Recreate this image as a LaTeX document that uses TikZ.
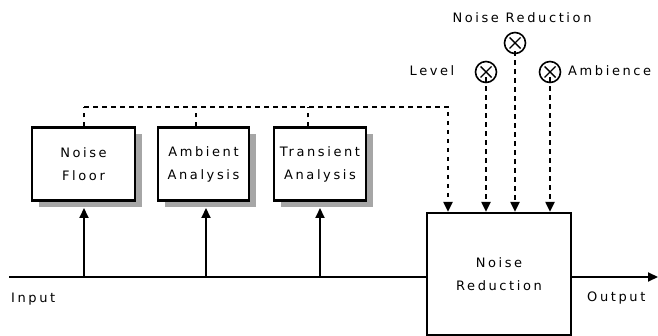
\documentclass[tikz,border=0pt]{standalone}
\usepackage{fontspec}
\newfontfamily\pix[LetterSpace=20]{DejaVu Sans}
\usetikzlibrary{arrows.meta,shadows}
\begin{document}
\begin{tikzpicture}[x=1pt,y=-1pt,
  every node/.style={font=\pix\fontsize{13}{23}\selectfont, inner sep=0pt},
  blk/.style={draw, line width=2.2pt, fill=white, align=center,
    drop shadow={shadow xshift=7pt, shadow yshift=-7pt, fill=gray!70, opacity=1}},
  bigblk/.style={draw, line width=2.2pt, fill=white, align=center},
  sig/.style={line width=2pt},
  ctl/.style={line width=2pt, dash pattern=on 4.5pt off 4.5pt},
  tip/.style={-{Triangle[length=10pt,width=9pt]}},
  knob/.style={circle, draw, line width=1.6pt, minimum size=21pt, path picture={
     \draw[line width=1.4pt] ([shift={(-5.5pt,-5.5pt)}]path picture bounding box.center) -- ([shift={(5.5pt,5.5pt)}]path picture bounding box.center)
       ([shift={(-5.5pt,5.5pt)}]path picture bounding box.center) -- ([shift={(5.5pt,-5.5pt)}]path picture bounding box.center);}}
]
\useasboundingbox (0,0) rectangle (658,336);
% blocks
\node[blk, minimum width=103pt, minimum height=73pt] (nf) at (83.5,164) {Noise\\Floor};
\node[blk, minimum width=91pt, minimum height=73pt] (aa) at (203.5,164) {Ambient\\Analysis};
\node[blk, minimum width=92pt, minimum height=73pt] (ta) at (320,164) {Transient\\Analysis};
\node[bigblk, minimum width=144pt, minimum height=122pt] (nr) at (499,274) {Noise\\Reduction};
% knobs
\node[knob] (klev) at (486,72) {};
\node[knob] (knr) at (515,43) {};
\node[knob] (kamb) at (550,72) {};
\node (tlev) at (432,71) {Level};
\node (tnr) at (522,18) {Noise Reduction};
\node[anchor=west] (tamb) at (568,71) {Ambience};
% input/output labels
\node[anchor=west] (tin) at (11,299) {Input};
\node[anchor=west] (tout) at (587,298) {Output};
% coordinates
\coordinate (in) at (9,277);
\coordinate (j1) at (84,277);
\coordinate (j2) at (206,277);
\coordinate (j3) at (320,277);
\coordinate (out) at (658,277);
\coordinate (c1) at (84,107);
\coordinate (c2) at (196,107);
\coordinate (c3) at (308,107);
\coordinate (c4) at (448,107);
% signal path
\draw[sig] (in) -- (in -| nr.west);
\draw[sig, tip] (out -| nr.east) -- (out);
\draw[sig, tip] (j1) -- (84,208);
\draw[sig, tip] (j2) -- (206,208);
\draw[sig, tip] (j3) -- (320,208);
% control paths
\draw[ctl] (nf.north -| c1) -- (c1);
\draw[ctl] (aa.north -| c2) -- (c2);
\draw[ctl] (ta.north -| c3) -- (c3);
\draw[ctl, tip] (c1) -- (c4) -- (nr.north -| c4);
\draw[ctl, tip] ([yshift=6pt]klev.south) -- (nr.north -| klev);
\draw[ctl, tip] ([yshift=3pt]knr.south) -- (nr.north -| knr);
\draw[ctl, tip] ([yshift=6pt]kamb.south) -- (nr.north -| kamb);
\end{tikzpicture}
\end{document}
